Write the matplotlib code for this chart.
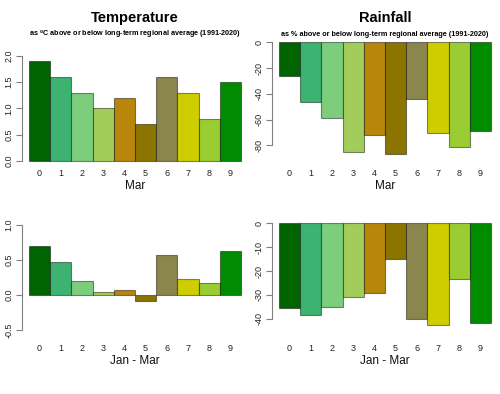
import numpy as np
import matplotlib
matplotlib.use("Agg")
import matplotlib.pyplot as plt

plt.rcParams["font.family"] = ["Liberation Sans", "DejaVu Sans"]
plt.rcParams["mathtext.fontset"] = "custom"
plt.rcParams["mathtext.rm"] = "Liberation Sans"
plt.rcParams["mathtext.bf"] = "Liberation Sans:bold"

# Data
regions = ["0", "1", "2", "3", "4", "5", "6", "7", "8", "9"]
colors = ["#006400", "#3CB371", "#7CCD7C", "#A2CD5A", "#B8860B",
          "#8B7500", "#8B864E", "#CDCD00", "#9ACD32", "#008B00"]
temp_mar = [1.9, 1.6, 1.3, 1.0, 1.2, 0.7, 1.6, 1.3, 0.8, 1.5]
rain_mar = [-26, -46, -59, -85, -72, -87, -44, -70, -81, -69]
temp_jm = [0.70, 0.47, 0.20, 0.04, 0.07, -0.09, 0.57, 0.23, 0.17, 0.63]
rain_jm = [-35.3, -38.4, -35.1, -31.0, -29.0, -14.9, -40.0, -42.4, -23.4, -41.6]

W, H = 500, 394
fig = plt.figure(figsize=(W / 100, H / 100), dpi=100)


def px_axes(left, top, right, bottom):
    return fig.add_axes([left / W, 1 - bottom / H, (right - left) / W, (bottom - top) / H])


def panel(rect, values, ylim, yticks, yfmt, xlabel):
    ax = px_axes(*rect)
    x = np.arange(len(values))
    ax.bar(x, values, width=1.0, align="edge", color=colors,
           edgecolor=(0, 0, 0, 0.45), linewidth=0.8)
    ax.set_xlim(-0.33, 10.33)
    ax.set_ylim(*ylim)
    for s in ["top", "right", "bottom"]:
        ax.spines[s].set_visible(False)
    ax.spines["left"].set_color("#808080")
    ax.spines["left"].set_linewidth(0.8)
    ax.spines["left"].set_bounds(yticks[0], yticks[-1])
    ax.set_yticks(yticks)
    ax.set_yticklabels([yfmt.format(t) for t in yticks], rotation=90, va="center")
    ax.tick_params(axis="y", length=4, width=0.8, color="#808080", pad=2,
                   labelsize=6.5, labelcolor="#222222")
    ax.set_xticks(x + 0.5)
    ax.set_xticklabels(regions)
    ax.tick_params(axis="x", length=0, pad=4, labelsize=6.5, labelcolor="#222222")
    ax.set_xlabel(xlabel, fontsize=8.5, labelpad=2, color="#111111")
    return ax


panel((22, 50, 248, 163), temp_mar, (-0.038, 2.114),
      [0.0, 0.5, 1.0, 1.5, 2.0], "{:.1f}", "Mar")
panel((272, 38, 498, 163), rain_mar, (-93.6, 3.3),
      [-80, -60, -40, -20, 0], "{:d}", "Mar")
panel((22, 218, 248, 338), temp_jm, (-0.614, 1.1),
      [-0.5, 0.0, 0.5, 1.0], "{:.1f}", "Jan - Mar")
panel((272, 218, 498, 338), rain_jm, (-48.0, 2.2),
      [-40, -30, -20, -10, 0], "{:d}", "Jan - Mar")

fig.text(135 / W, 1 - 18 / H, "Temperature", ha="center", va="center",
         fontsize=10.5, fontweight="bold")
fig.text(385 / W, 1 - 18 / H, "Rainfall", ha="center", va="center",
         fontsize=10.5, fontweight="bold")
fig.text(135 / W, 1 - 35 / H,
         r"as $^\mathbf{o}$C above or below long-term regional average (1991-2020)",
         ha="center", va="center", fontsize=5.2, fontweight="bold")
fig.text(385 / W, 1 - 34 / H,
         "as % above or below long-term regional average (1991-2020)",
         ha="center", va="center", fontsize=5.2, fontweight="bold")

fig.savefig("out.png", dpi=100)
